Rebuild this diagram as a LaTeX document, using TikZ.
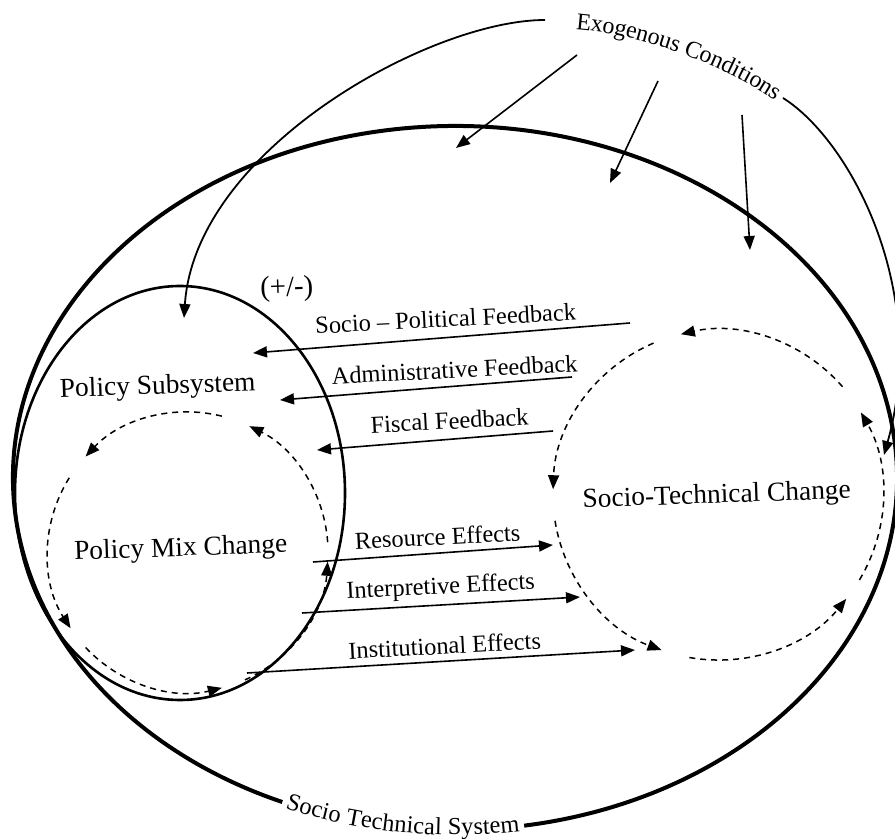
\documentclass[tikz,border=0pt]{standalone}
\usepackage{fontspec}
\setmainfont{Liberation Serif}
\usepackage{tikz}
\usetikzlibrary{arrows.meta, decorations.text}

\begin{document}
\begin{tikzpicture}[x=0.5pt, y=0.5pt,
    big/.style={font=\fontsize{13.7}{16}\selectfont, inner sep=0pt, anchor=base, rotate=2},
    small/.style={font=\fontsize{12.2}{14}\selectfont, inner sep=0pt, anchor=base, rotate=3},
    tip/.style={-{Triangle[length=7pt, width=5.5pt]}},
    link/.style={line width=0.8pt, tip},
    exo/.style={line width=0.9pt},
    loopline/.style={line width=0.75pt, dash pattern=on 3pt off 2.5pt, tip}]
  \useasboundingbox (0,-839) rectangle (895,0);

  % Systems
  \coordinate (sts) at (455,-478);
  \draw[line width=2pt] ([shift={(sts)}]279:442 and 352)
    arc[start angle=279, end angle=607, x radius=442, y radius=352];
  \path[decorate, decoration={text along path, text align=center, raise=-2.5pt,
      text={|\fontsize{12.2}{14}\selectfont|Socio Technical System}}]
    ([shift={(sts)}]247:442 and 352)
    arc[start angle=247, end angle=279, x radius=442, y radius=352];
  \draw[line width=1.3pt] (180,-493) ellipse[x radius=165, y radius=207];

  % Nodes
  \node[big] (ps) at (158,-394) {Policy Subsystem};
  \node[big] (pmc) at (181,-556) {Policy Mix Change};
  \node[big] (stc) at (717,-503) {Socio-Technical Change};
  \node[big, font=\fontsize{14.4}{16}\selectfont, rotate=0] (pm) at (287,-296) {(+/-)};
  \node[small] (spf) at (446,-327) {Socio – Political Feedback};
  \node[small] (af) at (455,-378) {Administrative Feedback};
  \node[small] (ff) at (450,-429) {Fiscal Feedback};
  \node[small] (re) at (438,-545) {Resource Effects};
  \node[small] (ie) at (441,-594) {Interpretive Effects};
  \node[small] (ine) at (445,-654) {Institutional Effects};

  % Arrow ends
  \coordinate (spf-a) at (630,-323); \coordinate (spf-b) at (253,-353);
  \coordinate (af-a) at (572,-377);  \coordinate (af-b) at (280,-400);
  \coordinate (ff-a) at (553,-431);  \coordinate (ff-b) at (317,-450);
  \coordinate (re-a) at (313,-562);  \coordinate (re-b) at (553,-545);
  \coordinate (ie-a) at (302,-613);  \coordinate (ie-b) at (580,-597);
  \coordinate (ine-a) at (247,-673); \coordinate (ine-b) at (635,-650);

  % Feedbacks and effects
  \foreach \x in {spf,af,ff,re,ie,ine}
  {
    \draw[link] (\x-a) -- (\x-b);
  }

  % Exogenous conditions
  \coordinate (ex-l) at (545,-20);
  \coordinate (ex-r) at (783,-98);
  \coordinate (ps-top) at (184,-318);
  \coordinate (sts-r) at (884,-455);
  \draw[exo, tip] (ex-l) .. controls (430,-20) and (195,-150) .. (ps-top);
  \path[decorate, decoration={text along path, text align=center, raise=-4pt,
      text={|\fontsize{12}{14}\selectfont|Exogenous Conditions}}]
    (573,-21) .. controls (630,-24) and (720,-52) .. (783,-96);
  \draw[exo, tip] (ex-r) .. controls (850,-140) and (930,-290) .. (sts-r);
  \coordinate (ex1) at (577,-55); \coordinate (ex1-t) at (456,-148);
  \coordinate (ex2) at (658,-81); \coordinate (ex2-t) at (610,-183);
  \coordinate (ex3) at (742,-115); \coordinate (ex3-t) at (750,-250);
  \foreach \x in {1,2,3}
  {
    \draw[link] (ex\x) -- (ex\x-t);
  }

  % Change loops
  \coordinate (pml) at (188,-552);
  \foreach \a/\b in {76/137,148/213,223/284,294/356,4/64}
  {
    \draw[loopline] ([shift={(pml)}]\a:140) arc[start angle=\a, end angle=\b, radius=140];
  }
  \coordinate (stl) at (718,-495);
  \foreach \a/\b in {41/103,113/178,189/250,260/321,329/390}
  {
    \draw[loopline] ([shift={(stl)}]\a:165) arc[start angle=\a, end angle=\b, radius=165];
  }
\end{tikzpicture}
\end{document}
